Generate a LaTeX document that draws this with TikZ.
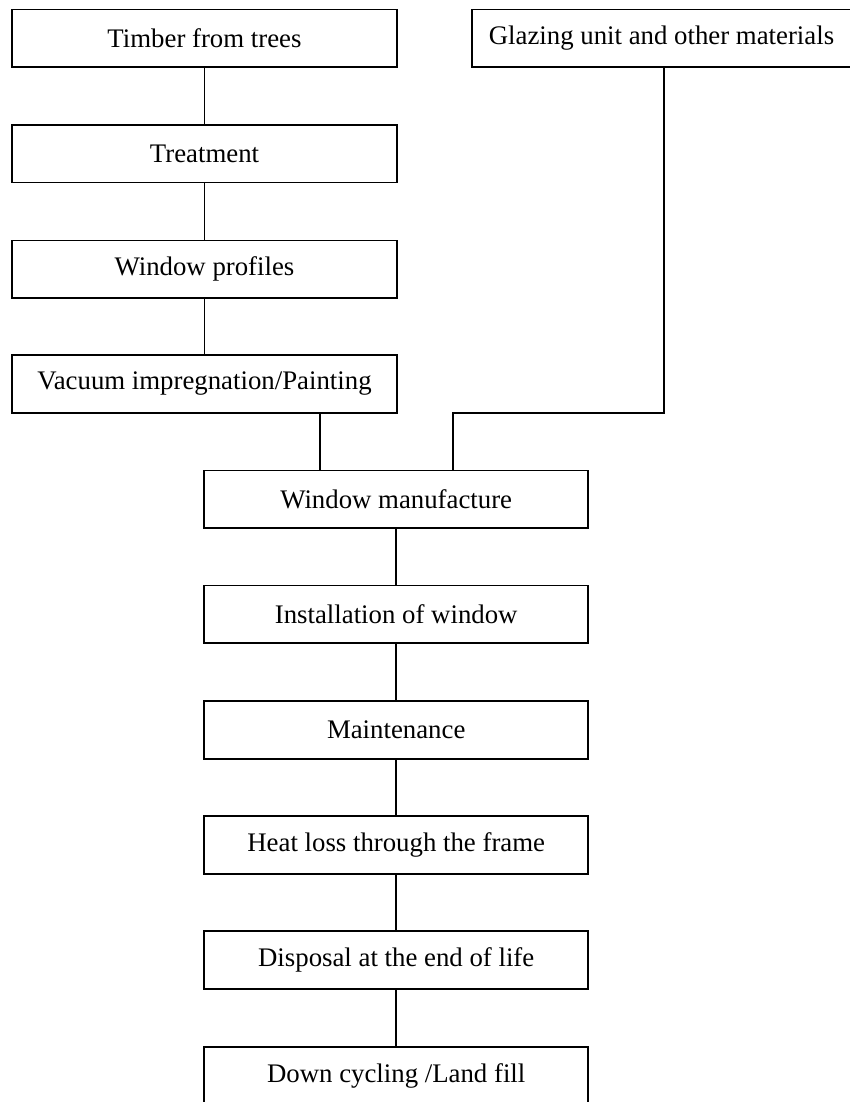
\documentclass[tikz,border=0pt]{standalone}
\usepackage{fontspec}
\setmainfont{Liberation Serif}
\begin{document}
\begin{tikzpicture}[x=1pt,y=-1pt,
  box/.style={draw,line width=1.8pt,rectangle,inner sep=0pt,minimum height=57.5pt,font=\fontsize{26.8}{30}\selectfont},
  topbox/.style={box,minimum width=385pt},
  lowbox/.style={box,minimum width=384.3pt},
  link/.style={line width=1.7pt}]
\useasboundingbox (0,0) rectangle (850,1102);
\node[topbox] (timber) at (204.5,38.2) {Timber from trees};
\node[topbox] (treat) at (204.5,153.7) {Treatment};
\node[topbox] (prof) at (204.5,269.2) {Window profiles};
\node[topbox] (vac) at (204.5,383.9) {Vacuum impregnation/Painting};
\node[box,minimum width=378.5pt] (glaz) at (661.5,38.2) {Glazing unit and other materials};
\node[lowbox] (manu) at (396.2,499.2) {Window manufacture};
\node[lowbox] (inst) at (396.2,614.3) {Installation of window};
\node[lowbox] (maint) at (396.2,729.9) {Maintenance};
\node[lowbox] (heat) at (396.2,845) {Heat loss through the frame};
\node[lowbox] (disp) at (396.2,959.9) {Disposal at the end of life};
\node[lowbox] (down) at (396.2,1075.6) {Down cycling /Land fill};
\draw[link] (timber) -- (treat);
\draw[link] (treat) -- (prof);
\draw[link] (prof) -- (vac);
\draw[link] (vac.south -| 319.7,0) -- (manu.north -| 319.7,0);
\draw[link] (glaz.south -| 664.3,0) -- (664.3,412.7) -- (453.3,412.7) -- (manu.north -| 453.3,0);
\draw[link] (manu) -- (inst);
\draw[link] (inst) -- (maint);
\draw[link] (maint) -- (heat);
\draw[link] (heat) -- (disp);
\draw[link] (disp) -- (down);
\end{tikzpicture}
\end{document}
